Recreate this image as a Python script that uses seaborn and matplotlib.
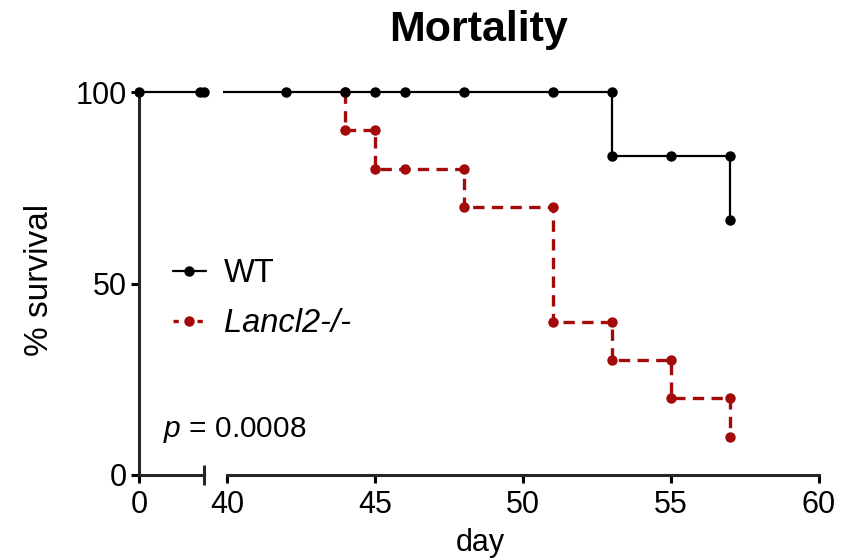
import matplotlib
matplotlib.use("Agg")
import matplotlib.pyplot as plt
from matplotlib.lines import Line2D
import seaborn as sns

# Kaplan-Meier step points (day, % survival)
wt_day = [0, 2.05, 2.2, 42, 44, 45, 46, 48, 51, 53, 53, 55, 57, 57]
wt_surv = [100, 100, 100, 100, 100, 100, 100, 100, 100, 100, 83.3, 83.3, 83.3, 66.7]
ko_day = [44, 44, 45, 45, 46, 48, 48, 51, 51, 53, 53, 55, 55, 57, 57]
ko_surv = [100, 90, 90, 80, 80, 80, 70, 70, 40, 40, 30, 30, 20, 20, 10]

group_names = ["WT", "Lancl2-/-"]
p_value = "0.0008"
y_ticks = [0, 50, 100]
x_ticks_left = [0]
x_ticks_right = [40, 45, 50, 55, 60]

sns.set_theme(style="ticks")
plt.rcParams["font.family"] = ["Liberation Sans", "DejaVu Sans"]
plt.rcParams["mathtext.fontset"] = "custom"
plt.rcParams["mathtext.it"] = "Liberation Sans:italic"
plt.rcParams["mathtext.rm"] = "Liberation Sans"
plt.rcParams["text.color"] = "black"
plt.rcParams["axes.labelcolor"] = "black"

W, H = 863, 558
fig = plt.figure(figsize=(W / 100, H / 100), dpi=100)

pxd = 29.6   # pixels per day
pxy = 3.83   # pixels per % survival
y0 = 475
bottom = (H - y0) / H
height = 103 * pxy / H

ax1 = fig.add_axes([(139 - 0.12 * pxd) / W, bottom, 2.5 * pxd / W, height])
ax2 = fig.add_axes([(227 - 0.12 * pxd) / W, bottom, 20.62 * pxd / W, height])

black = "#000000"
red = "#a30b0b"

for ax in (ax1, ax2):
    sns.lineplot(x=ko_day, y=ko_surv, sort=False, estimator=None, ax=ax,
                 color=red, linewidth=2.4, linestyle=(0, (3.4, 2.2)),
                 marker="o", markersize=7.5, markeredgewidth=0, zorder=2)
    sns.lineplot(x=wt_day, y=wt_surv, sort=False, estimator=None, ax=ax,
                 color=black, linewidth=1.6,
                 marker="o", markersize=7.5, markeredgewidth=0, zorder=3)
    ax.set_ylim(0, 103)
    ax.spines["top"].set_visible(False)
    ax.spines["right"].set_visible(False)
    ax.spines["bottom"].set_linewidth(2.2)
    ax.spines["left"].set_linewidth(2.2)
    ax.tick_params(axis="both", width=2.2, length=6, labelsize=22,
                   color=black, labelcolor=black, pad=3)
    ax.tick_params(axis="x", pad=5)
    ax.set_xlabel("")
    ax.set_ylabel("")

ax1.set_xlim(-0.12, 2.38)
ax1.spines["bottom"].set_bounds(0, 2.2)
ax1.spines["left"].set_position(("data", 0))
ax1.spines["left"].set_bounds(0, 100)
ax1.set_yticks(y_ticks)
ax1.set_xticks(x_ticks_left)
ax1.set_xticks([2.2], minor=True)
ax1.tick_params(axis="x", which="minor", direction="inout", length=15, width=2.2)

ax2.set_xlim(39.88, 60.5)
ax2.spines["bottom"].set_bounds(40, 60)
ax2.spines["left"].set_visible(False)
ax2.set_yticks([])
ax2.set_xticks(x_ticks_right)
ax2.set_xticks([40], minor=True)
ax2.tick_params(axis="x", which="minor", direction="inout", length=15, width=2.2)

fig.text(479 / W, 1 - 30 / H, "Mortality", ha="center", va="center",
         fontsize=31, fontweight="bold")
fig.text(40 / W, 1 - 280 / H, "% survival", ha="center", va="center",
         rotation=90, fontsize=24)
fig.text(480 / W, 1 - 543 / H, "day", ha="center", va="center", fontsize=22)
fig.text(163 / W, 1 - 430 / H, "$p$ = " + p_value, ha="left", va="center",
         fontsize=21.5)

handles = [
    Line2D([], [], color=black, linewidth=1.6, marker="o", markersize=7.5,
           markeredgewidth=0),
    Line2D([], [], color=red, linewidth=2.4, linestyle=(0, (1.6, 2.0)),
           marker="o", markersize=7.5, markeredgewidth=0),
]
leg = fig.legend(handles, group_names, loc="upper left",
                 bbox_to_anchor=(160 / W, 1 - 245 / H), frameon=False,
                 fontsize=23.5, handlelength=1.0, handletextpad=0.55,
                 labelspacing=0.58, borderaxespad=0)
leg.get_texts()[1].set_fontstyle("italic")

fig.savefig("out.png", dpi=100)
